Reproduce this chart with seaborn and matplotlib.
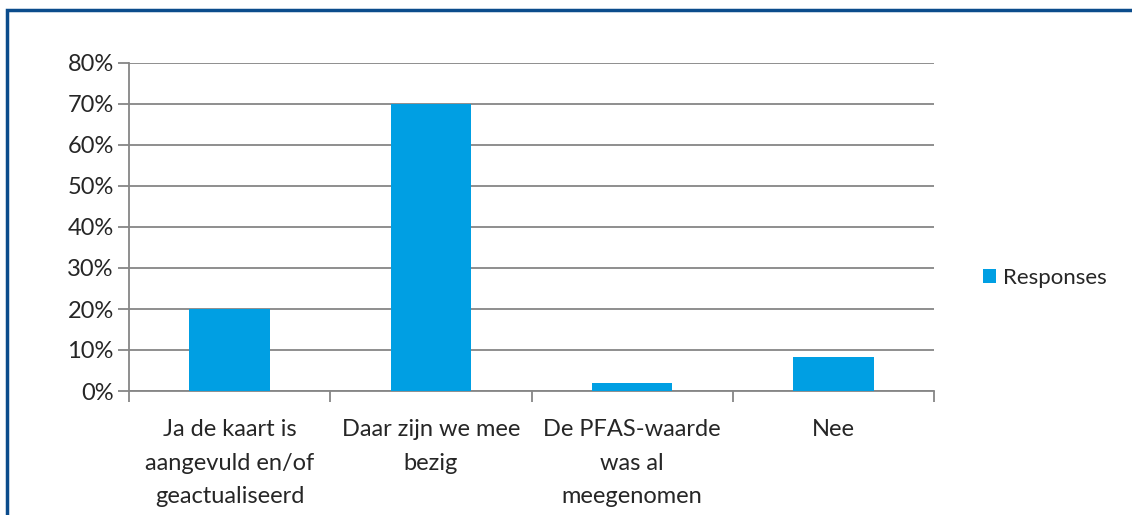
import seaborn as sns
import pandas as pd
import matplotlib.pyplot as plt
from matplotlib.patches import Rectangle
from matplotlib.ticker import FixedLocator, PercentFormatter

###################
# Data
categories = ["Ja de kaart is\naangevuld en/of\ngeactualiseerd",
              "Daar zijn we mee\nbezig",
              "De PFAS-waarde\nwas al\nmeegenomen",
              "Nee"]
responses = [20, 70, 2, 8.3]
series = "Responses"

df = pd.DataFrame({"cat": categories, "val": responses, "series": series})

###################
# Setup
sns.set_style("white")
plt.rcParams["font.family"] = ["Lato", "DejaVu Sans"]
bar_color = "#009FE3"
grid_color = "#868686"
fs = 17

fig = plt.figure(figsize=(11.32, 5.15), dpi=100)
ax = fig.add_axes([129 / 1132, 1 - 391 / 515, (934 - 129) / 1132, (391 - 63) / 515])

sns.barplot(data=df, x="cat", y="val", hue="series", palette=[bar_color],
            width=0.4, ax=ax, saturation=1, legend=True, linewidth=0, zorder=3)

ax.set_ylim(0, 80)
ax.set_xlim(-0.5, 3.5)
ax.yaxis.set_major_locator(FixedLocator(range(0, 81, 10)))
ax.yaxis.set_major_formatter(PercentFormatter(decimals=0))
ax.yaxis.grid(True, color=grid_color, linewidth=1.3, zorder=0)
ax.set_axisbelow(True)

# category boundaries as major ticks, labels on minor ticks
ax.xaxis.set_major_locator(FixedLocator([-0.5, 0.5, 1.5, 2.5, 3.5]))
ax.xaxis.set_minor_locator(FixedLocator([0, 1, 2, 3]))
ax.set_xticklabels([], minor=False)
ax.set_xticklabels(categories, minor=True, fontsize=fs, linespacing=1.75)
ax.tick_params(axis="x", which="major", length=8, width=1.3, color=grid_color, direction="out", bottom=True)
ax.tick_params(axis="x", which="minor", length=0, pad=20)
ax.tick_params(axis="y", length=8, width=1.3, color=grid_color, direction="out", left=True,
               labelsize=fs, pad=3)
ax.set_xlabel("")
ax.set_ylabel("")

for side in ["top", "right"]:
    ax.spines[side].set_visible(False)
for side in ["left", "bottom"]:
    ax.spines[side].set_color(grid_color)
    ax.spines[side].set_linewidth(1.3)

leg = ax.legend(loc="center left", bbox_to_anchor=(972 / 1132, 1 - 278 / 515),
                bbox_transform=fig.transFigure, frameon=False, fontsize=16,
                handlelength=0.6, handleheight=0.6, handletextpad=0.3, borderpad=0)

# frame around the chart
fig.patches.append(Rectangle((6.5 / 1132, -0.05), 1.1, 1 - 9.5 / 515 + 0.05,
                             transform=fig.transFigure, fill=False,
                             edgecolor="#0B4C8C", linewidth=2.5))

###################
# Export
fig.savefig("out.png", dpi=100)
